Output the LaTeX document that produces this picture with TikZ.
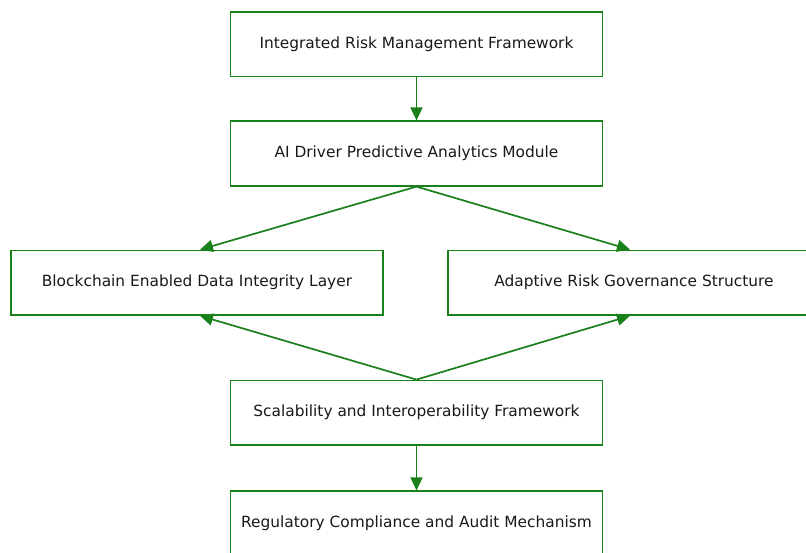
\documentclass[tikz,border=0pt]{standalone}
\usepackage{fontspec}
\setmainfont{DejaVu Sans}
\usetikzlibrary{arrows.meta}
\definecolor{boxgreen}{RGB}{26,128,26}
\tikzset{
  stepbox/.style={draw=boxgreen, line width=1.7pt, fill=white, minimum width=372pt, minimum height=64.5pt, inner sep=0pt, font=\fontsize{15.4pt}{18pt}\selectfont, text=black!90},
  flow/.style={draw=boxgreen, line width=1.7pt, -{Triangle[length=13pt,width=12pt]}, boxgreen}
}
\begin{document}
\begin{tikzpicture}[x=1pt,y=-1pt]
\useasboundingbox (0,0) rectangle (806,552);
\clip (0,0) rectangle (806,552);
\fill[white] (0,0) rectangle (806,552);
\node[stepbox] (irm) at (416.5,44.3) {Integrated Risk Management Framework};
\node[stepbox] (ai) at (416.5,153.5) {AI Driver Predictive Analytics Module};
\node[stepbox] (bc) at (197,282.7) {Blockchain Enabled Data Integrity Layer};
\node[stepbox] (ar) at (634,282.7) {Adaptive Risk Governance Structure};
\node[stepbox] (si) at (416.5,412.7) {Scalability and Interoperability Framework};
\node[stepbox] (rc) at (416.5,523.5) {Regulatory Compliance and Audit Mechanism};
\draw[flow] (irm.south) -- (ai.north);
\draw[flow] (ai.south) -- ([xshift=3pt]bc.north);
\draw[flow] (ai.south) -- ([xshift=-4pt]ar.north);
\draw[flow] (si.north) -- ([xshift=3pt]bc.south);
\draw[flow] (si.north) -- ([xshift=-4pt]ar.south);
\draw[flow] (si.south) -- (rc.north);
\end{tikzpicture}
\end{document}
